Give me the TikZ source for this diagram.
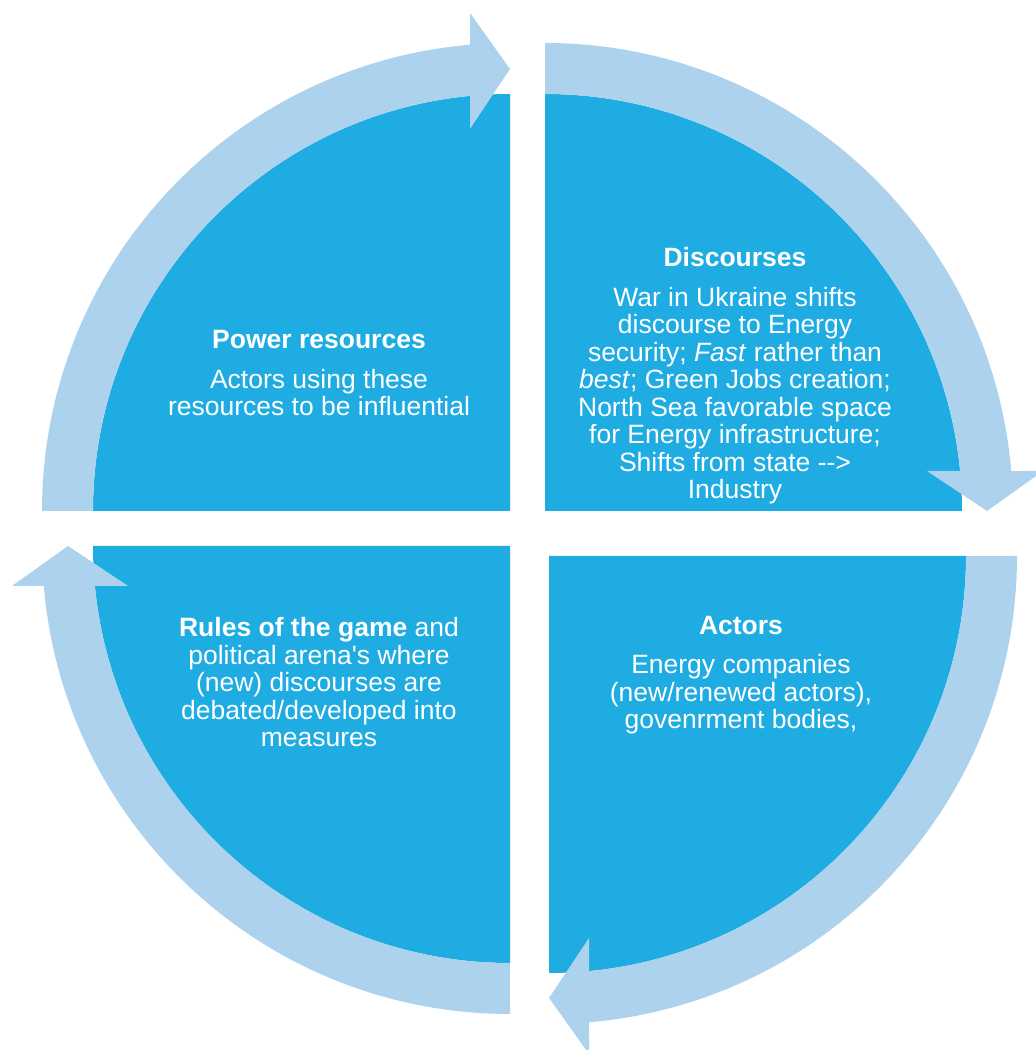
\documentclass[tikz,border=0pt]{standalone}
\usepackage{fontspec}
\setmainfont{Liberation Sans}
\definecolor{qdark}{RGB}{30,172,227}
\definecolor{qlight}{RGB}{173,210,238}
\newcommand\quadseg[4]{% name cx cy rot
 \begin{scope}[shift={(#2,#3)}, rotate=#4]
   \coordinate (#1) at (0,0);
   \fill[darkq] (0,0) -- (-417,0) arc[start angle=180,end angle=90,radius=417] -- cycle;
   \fill[ringq] (-468,0) arc[start angle=180,end angle=94.903,radius=468] -- (-40,498) -- (0,442) -- (-40,382) -- (-40,415.08) arc[start angle=95.505,end angle=180,radius=417] -- cycle;
 \end{scope}}
\begin{document}
\begin{tikzpicture}[x=1pt,y=1pt,
  darkq/.style={fill=qdark},
  ringq/.style={fill=qlight},
  lbl/.style={text=white, align=center, font=\fontsize{26.5}{27.5}\selectfont, inner sep=0pt}]
\useasboundingbox (0,0) rectangle (1036,1050);
\quadseg{tl}{510}{539}{0}
\quadseg{tr}{545}{539}{-90}
\quadseg{br}{549}{494}{-180}
\quadseg{bl}{510}{504}{90}
\node[lbl, anchor=base] (pr) at (319,634) {\textbf{Power resources}\\[12pt] Actors using these\\ resources to be influential};
\node[lbl, anchor=base] (dc) at (735,551) {\textbf{Discourses}\\[12pt] War in Ukraine shifts\\ discourse to Energy\\ security; \textit{Fast} rather than\\ \textit{best}; Green Jobs creation;\\ North Sea favorable space\\ for Energy infrastructure;\\ Shifts from state -{}->\\ Industry};
\node[lbl, anchor=base] (ac) at (741,321) {\textbf{Actors}\\[12pt] Energy companies\\ (new/renewed actors),\\ govenrment bodies,};
\node[lbl, anchor=base] (rg) at (319,303) {\textbf{Rules of the game} and\\ political arena\textquotesingle s where\\ (new) discourses are\\ debated/developed into\\ measures};
\end{tikzpicture}
\end{document}
